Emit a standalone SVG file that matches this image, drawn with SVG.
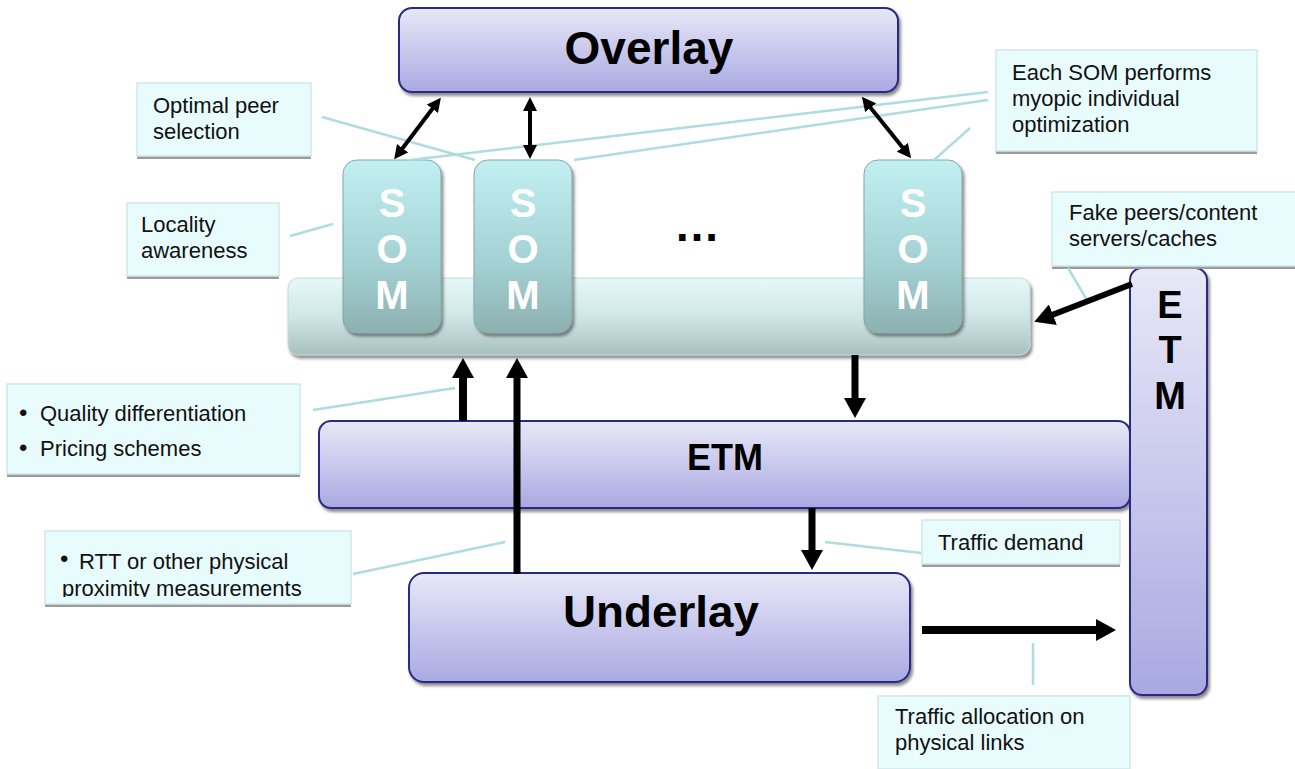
<svg xmlns="http://www.w3.org/2000/svg" width="1295" height="769" viewBox="0 0 1295 769">
  <defs>
    <linearGradient id="gPurple" x1="0" y1="0" x2="0" y2="1">
      <stop offset="0" stop-color="#e8e8f8"/>
      <stop offset="1" stop-color="#a9a9e2"/>
    </linearGradient>
    <linearGradient id="gBar" x1="0" y1="0" x2="0" y2="1">
      <stop offset="0" stop-color="#e6f8f9"/>
      <stop offset="0.5" stop-color="#cfe6e7"/>
      <stop offset="1" stop-color="#a9c0c0"/>
    </linearGradient>
    <linearGradient id="gSom" x1="0" y1="0" x2="0" y2="1">
      <stop offset="0" stop-color="#c2f0f2"/>
      <stop offset="0.6" stop-color="#a3d1d3"/>
      <stop offset="1" stop-color="#8db0b0"/>
    </linearGradient>
    <filter id="shadow" x="-5%" y="-5%" width="112%" height="120%">
      <feDropShadow dx="2" dy="3" stdDeviation="1.5" flood-color="#333" flood-opacity="0.55"/>
    </filter>
    <marker id="headBig" viewBox="0 0 20 22" refX="1" refY="11" markerWidth="20" markerHeight="22" markerUnits="userSpaceOnUse" orient="auto">
      <path d="M0,0 L20,11 L0,22 z" fill="#000"/>
    </marker>
    <marker id="headSmall" viewBox="0 0 14 14" refX="1" refY="7" markerWidth="14" markerHeight="14" markerUnits="userSpaceOnUse" orient="auto-start-reverse">
      <path d="M0,0 L14,7 L0,14 z" fill="#000"/>
    </marker>
    <clipPath id="clipRtt">
      <rect x="45" y="531" width="306" height="66"/>
    </clipPath>
  </defs>
  <style>
    .block { fill: url(#gPurple); stroke: #2a2a86; stroke-width: 2; filter: url(#shadow); }
    .bar { fill: url(#gBar); stroke: #c4d8d8; stroke-width: 1; filter: url(#shadow); }
    .som { fill: url(#gSom); stroke: #86a8a8; stroke-width: 1; filter: url(#shadow); }
    .title { font-family: "Liberation Sans", Arial, sans-serif; font-weight: bold; fill: #000; text-anchor: middle; }
    .somtxt { font-family: "Liberation Sans", Arial, sans-serif; font-weight: bold; fill: #fff; text-anchor: middle; font-size: 40px; }
    .note { fill: #e9fcfd; stroke: #cfe8ea; stroke-width: 1.5; }
    .noteShadow { fill: #9b9b9b; }
    .ntxt { font-family: "Liberation Sans", Arial, sans-serif; font-size: 22px; fill: #111; }
    .bullet { font-family: "Liberation Sans", Arial, sans-serif; font-size: 24px; fill: #111; }
    .leader { stroke: #aedcdf; stroke-width: 2.5; fill: none; }
    .big { stroke: #000; fill: none; marker-end: url(#headBig); }
    .dbl { stroke: #000; stroke-width: 4; fill: none; marker-start: url(#headSmall); marker-end: url(#headSmall); }
  </style>

  <!-- main blocks -->
  <g id="overlay">
    <rect class="block" x="399" y="8" width="499" height="84" rx="13"/>
    <text class="title" x="649" y="64" font-size="46">Overlay</text>
  </g>

  <g id="som-bar">
    <rect class="bar" x="288" y="278" width="742" height="77" rx="10"/>
  </g>

  <g id="som-1">
    <rect class="som" x="343" y="160" width="98" height="173" rx="14"/>
    <text class="somtxt" x="392" y="217">S</text>
    <text class="somtxt" x="392" y="263">O</text>
    <text class="somtxt" x="392" y="309">M</text>
  </g>
  <g id="som-2">
    <rect class="som" x="474" y="160" width="98" height="173" rx="14"/>
    <text class="somtxt" x="523" y="217">S</text>
    <text class="somtxt" x="523" y="263">O</text>
    <text class="somtxt" x="523" y="309">M</text>
  </g>
  <g id="som-n">
    <rect class="som" x="864" y="160" width="98" height="173" rx="14"/>
    <text class="somtxt" x="913" y="217">S</text>
    <text class="somtxt" x="913" y="263">O</text>
    <text class="somtxt" x="913" y="309">M</text>
  </g>
  <g id="ellipsis">
    <text class="title" x="697" y="241" font-size="46">…</text>
  </g>

  <g id="etm">
    <rect class="block" x="319" y="421" width="811" height="87" rx="12"/>
    <text class="title" x="725" y="470" font-size="36">ETM</text>
  </g>

  <g id="etm-side">
    <rect class="block" x="1130" y="268" width="77" height="427" rx="12"/>
    <text class="title" x="1170" y="318" font-size="38">E</text>
    <text class="title" x="1170" y="363" font-size="38">T</text>
    <text class="title" x="1170" y="409" font-size="38">M</text>
  </g>

  <g id="underlay">
    <rect class="block" x="409" y="573" width="501" height="109" rx="15"/>
    <text class="title" x="661" y="627" font-size="45" textLength="196" lengthAdjust="spacingAndGlyphs">Underlay</text>
  </g>

  <!-- callouts -->
  <g id="note-peer">
    <rect class="noteShadow" x="137" y="86" width="174" height="73"/>
    <rect class="note" x="137" y="83" width="174" height="73"/>
    <text class="ntxt" x="153" y="113">Optimal peer</text>
    <text class="ntxt" x="153" y="139">selection</text>
  </g>
  <g id="note-myopic">
    <rect class="noteShadow" x="996" y="53" width="261" height="101"/>
    <rect class="note" x="996" y="50" width="261" height="101"/>
    <text class="ntxt" x="1012" y="80">Each SOM performs</text>
    <text class="ntxt" x="1012" y="106">myopic individual</text>
    <text class="ntxt" x="1012" y="132">optimization</text>
  </g>
  <g id="note-locality">
    <rect class="noteShadow" x="127" y="206" width="152" height="73"/>
    <rect class="note" x="127" y="203" width="152" height="73"/>
    <text class="ntxt" x="141" y="232">Locality</text>
    <text class="ntxt" x="141" y="258">awareness</text>
  </g>
  <g id="note-fake">
    <rect class="noteShadow" x="1052" y="195" width="250" height="74"/>
    <rect class="note" x="1052" y="192" width="250" height="74"/>
    <text class="ntxt" x="1069" y="220">Fake peers/content</text>
    <text class="ntxt" x="1069" y="246">servers/caches</text>
  </g>
  <g id="note-quality">
    <rect class="noteShadow" x="7" y="387" width="293" height="90"/>
    <rect class="note" x="7" y="384" width="293" height="90"/>
    <text class="bullet" x="19" y="421">•</text>
    <text class="ntxt" x="40" y="421">Quality differentiation</text>
    <text class="bullet" x="19" y="456">•</text>
    <text class="ntxt" x="40" y="456">Pricing schemes</text>
  </g>
  <g id="note-rtt">
    <rect class="noteShadow" x="45" y="534" width="306" height="73"/>
    <rect class="note" x="45" y="531" width="306" height="73"/>
    <g clip-path="url(#clipRtt)">
      <text class="bullet" x="60" y="567">•</text>
      <text class="ntxt" x="79" y="569">RTT or other physical</text>
      <text class="ntxt" x="62" y="596">proximity measurements</text>
    </g>
  </g>
  <g id="note-demand">
    <rect class="noteShadow" x="922" y="523" width="198" height="44"/>
    <rect class="note" x="922" y="520" width="198" height="44"/>
    <text class="ntxt" x="938" y="550">Traffic demand</text>
  </g>
  <g id="note-allocation">
    <rect class="noteShadow" x="878" y="699" width="252" height="73"/>
    <rect class="note" x="878" y="696" width="252" height="73"/>
    <text class="ntxt" x="895" y="724">Traffic allocation on</text>
    <text class="ntxt" x="895" y="750">physical links</text>
  </g>

  <!-- connectors -->
  <g id="connectors">
    <line class="leader" x1="322" y1="117" x2="475" y2="160"/>
    <line class="leader" x1="988" y1="92" x2="410" y2="160"/>
    <line class="leader" x1="988" y1="100" x2="574" y2="160"/>
    <line class="leader" x1="970" y1="128" x2="934" y2="160"/>
    <line class="leader" x1="290" y1="236" x2="333" y2="224"/>
    <line class="leader" x1="1068" y1="268" x2="1087" y2="300"/>
    <line class="leader" x1="313" y1="410" x2="455" y2="388"/>
    <line class="leader" x1="353" y1="574" x2="505" y2="542"/>
    <line class="leader" x1="825" y1="542" x2="921" y2="553"/>
    <line class="leader" x1="1033" y1="643" x2="1033" y2="685"/>

    <line class="dbl" x1="433" y1="108" x2="402" y2="149"/>
    <line class="dbl" x1="530" y1="110" x2="530" y2="146"/>
    <line class="dbl" x1="870" y1="107" x2="903" y2="148"/>

    <line class="big" stroke-width="8" x1="463" y1="421" x2="463" y2="377"/>
    <line class="big" stroke-width="7" x1="517" y1="574" x2="517" y2="377"/>
    <line class="big" stroke-width="7" x1="855" y1="355" x2="855" y2="399"/>
    <line class="big" stroke-width="7" x1="812" y1="508" x2="812" y2="551"/>
    <line class="big" stroke-width="8" x1="922" y1="630" x2="1097" y2="630"/>
    <line class="big" stroke-width="6" x1="1132" y1="284" x2="1052" y2="315"/>
  </g>
</svg>
